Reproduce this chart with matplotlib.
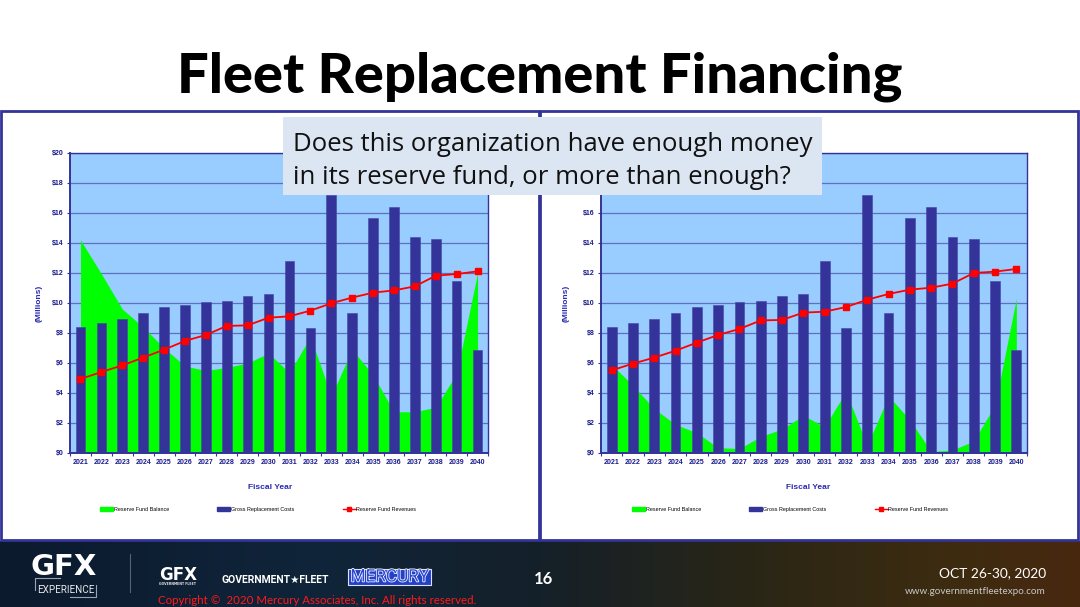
import numpy as np
import matplotlib
matplotlib.use('Agg')
import matplotlib.pyplot as plt
from matplotlib.patches import Rectangle, Patch
from matplotlib.lines import Line2D
from matplotlib.colors import LinearSegmentedColormap
import matplotlib.patheffects as pe

# ---------------- data ----------------
years = ['2021', '2022', '2023', '2024', '2025', '2026', '2027', '2028', '2029', '2030',
         '2031', '2032', '2033', '2034', '2035', '2036', '2037', '2038', '2039', '2040']
costs = [8.40, 8.64, 8.96, 9.33, 9.73, 9.89, 10.07, 10.16, 10.47, 10.60,
         12.78, 8.31, 17.18, 9.31, 15.64, 16.40, 14.38, 14.27, 11.49, 6.84]
balance_left = [14.2, 11.95, 9.6, 8.4, 7.0, 5.8, 5.5, 5.7, 6.0, 6.65,
                5.35, 7.75, 3.8, 6.9, 5.2, 2.75, 2.75, 3.05, 5.3, 12.0]
revenue_left = [4.93, 5.40, 5.84, 6.36, 6.89, 7.47, 7.87, 8.47, 8.51, 9.02,
                9.11, 9.49, 9.98, 10.36, 10.69, 10.84, 11.11, 11.82, 11.93, 12.11]
balance_right = [5.9, 4.5, 2.95, 1.9, 1.35, 0.35, 0.3, 1.1, 1.6, 2.5,
                 1.75, 4.1, 0.5, 3.8, 2.2, 0.1, 0.2, 0.8, 3.2, 10.3]
revenue_right = [5.51, 5.96, 6.36, 6.82, 7.36, 7.87, 8.27, 8.84, 8.87, 9.36,
                 9.42, 9.73, 10.22, 10.60, 10.89, 11.02, 11.29, 12.00, 12.09, 12.27]
y_ticks = [0, 2, 4, 6, 8, 10, 12, 14, 16, 18, 20]
y_tick_labels = ['$0', '$2', '$4', '$6', '$8', '$10', '$12', '$14', '$16', '$18', '$20']
series_names = ['Reserve Fund Balance', 'Gross Replacement Costs', 'Reserve Fund Revenues']

title_text = 'Fleet Replacement Financing'
question_lines = ['Does this organization have enough money',
                  'in its reserve fund, or more than enough?']

# ---------------- figure ----------------
W, H = 1080, 607
fig = plt.figure(figsize=(W / 100, H / 100), dpi=100)
fig.patch.set_facecolor('white')
renderer = fig.canvas.get_renderer()


def fx(x):
    return x / W


def fy(y):
    return 1 - y / H


def fit(t, width_px):
    bb = t.get_window_extent(renderer=renderer)
    t.set_fontsize(t.get_fontsize() * width_px / bb.width)


NAVY = '#333399'
TICKC = '#1a1a8c'
CF = 'Liberation Sans'

# footer gradient
axf = fig.add_axes([0, 0, 1, 66 / H], zorder=-1)
cmap = LinearSegmentedColormap.from_list('ft', [(0, '#0c1a2e'), (0.3, '#10253a'),
                                                (0.5, '#152029'), (0.7, '#2a2616'),
                                                (0.88, '#3d2c10'), (1.0, '#47280f')])
axf.imshow(np.linspace(0, 1, 256)[None, :], aspect='auto', cmap=cmap,
           extent=[0, 1, 0, 1])
axf.set_axis_off()


def draw_chart(ax, balance, revenue, ylabel_dx, xlabel_cx, legend_x, hide_top=False):
    x = np.arange(len(years))
    ax.set_facecolor('#99ccff')
    ax.fill_between(x, 0, balance, color='#00ff00', lw=0, zorder=1)
    ax.bar(x, costs, width=0.46, color=NAVY, edgecolor='#4545a8', lw=0.4, zorder=2)
    ax.plot(x, revenue, color='#ff0000', lw=1.3, marker='s', ms=3.8, zorder=3)
    ax.set_xlim(-0.5, len(years) - 0.5)
    ax.set_ylim(0, 20)
    ax.set_yticks(y_ticks)
    ax.set_yticklabels(y_tick_labels)
    ax.set_xticks(x)
    ax.set_xticklabels(years)
    ax.set_xticks(np.arange(len(years) + 1) - 0.5, minor=True)
    ax.tick_params(axis='x', which='major', length=0, pad=4.2)
    ax.tick_params(axis='x', which='minor', length=2.5, width=0.8, color=NAVY)
    ax.tick_params(axis='y', which='major', length=2.5, width=0.8, color=NAVY, pad=2.2)
    for lab in ax.get_xticklabels() + ax.get_yticklabels():
        lab.set_fontfamily(CF)
        lab.set_fontweight('bold')
        lab.set_fontsize(5)
        lab.set_color(TICKC)
    if hide_top:
        # these two labels sit fully behind the question box in the reference
        for lab in ax.get_yticklabels()[-2:]:
            lab.set_visible(False)
    ax.yaxis.grid(True, color='#5f70c2', lw=0.9)
    ax.set_axisbelow(True)
    for s in ax.spines.values():
        s.set_color(NAVY)
        s.set_linewidth(1.0)
    ax.spines['left'].set_linewidth(1.4)
    ax.spines['bottom'].set_linewidth(1.4)
    ax.set_ylabel('(Millions)', fontfamily=CF, fontweight='bold', fontsize=6,
                  color='#2a2ab0')
    ax.yaxis.set_label_coords(ylabel_dx, 0.5)
    ax.set_xlabel('Fiscal Year', fontfamily=CF, fontweight='bold', fontsize=6,
                  color='#2a2ab0')
    ax.xaxis.set_label_coords(xlabel_cx, -31 / 300)
    handles = [Patch(color='#00ff00'), Patch(color=NAVY),
               Line2D([], [], color='#ff0000', lw=1.0, marker='s', ms=2.5)]
    ax.legend(handles, series_names, loc='center left',
              bbox_to_anchor=(fx(legend_x), fy(509.5)), bbox_transform=fig.transFigure,
              ncol=3, frameon=False, prop={'family': CF, 'size': 3.9},
              handlelength=2.4, handleheight=0.6, handletextpad=0.15,
              columnspacing=8.9, borderpad=0, borderaxespad=0)


ax1 = fig.add_axes([fx(70), fy(453), fx(418), 300 / H])
draw_chart(ax1, balance_left, revenue_left, -27 / 418, (270 - 70) / 418, 100)
ax2 = fig.add_axes([fx(601), fy(453), fx(426), 300 / H])
draw_chart(ax2, balance_right, revenue_right, -31 / 426, (808 - 601) / 426, 632,
           hide_top=True)

# panel borders
for (x0, x1) in [(1, 539), (540, 1078)]:
    fig.patches.append(Rectangle((fx(x0), fy(540)), fx(x1 - x0), (540 - 111) / H,
                                 transform=fig.transFigure, fill=False,
                                 ec=NAVY, lw=2, zorder=2))

# title
t = fig.text(fx(540), fy(93), title_text, ha='center', va='baseline',
             fontfamily='Lato', fontweight='black', fontsize=40, color='black')
fit(t, 725)

# question box
fig.patches.append(Rectangle((fx(283), fy(195)), fx(822 - 283), (195 - 117) / H,
                             transform=fig.transFigure, fc='#dce6f2', ec='none',
                             zorder=5))
q1 = fig.text(fx(293), fy(151), question_lines[0], ha='left', va='baseline',
              fontfamily='Open Sans', fontsize=19, color='#111111', zorder=6)
fit(q1, 519)
fig.text(fx(293), fy(184), question_lines[1], ha='left', va='baseline',
         fontfamily='Open Sans', fontsize=q1.get_fontsize(), color='#111111', zorder=6)

# footer content
g = fig.text(fx(31), fy(575), 'GFX', ha='left', va='baseline', fontfamily='DejaVu Sans',
             fontweight='bold', fontsize=20, color='white')
fit(g, 66)
e = fig.text(fx(37), fy(593), 'EXPERIENCE', ha='left', va='baseline',
             fontfamily=['Liberation Sans Narrow', 'Roboto'], fontsize=9, color='#e8e8e8')
fit(e, 57)
fig.add_artist(Line2D([fx(35), fx(35), fx(60)], [fy(590), fy(578), fy(578)],
                      transform=fig.transFigure, color='#9aa4b0', lw=0.8))
fig.add_artist(Line2D([fx(70), fx(96), fx(96)], [fy(597), fy(597), fy(585)],
                      transform=fig.transFigure, color='#9aa4b0', lw=0.8))
fig.add_artist(Line2D([fx(130), fx(130)], [fy(554), fy(592)],
                      transform=fig.transFigure, color='#56636f', lw=0.8))
g2 = fig.text(fx(159), fy(580), 'GFX', ha='left', va='baseline', fontfamily='DejaVu Sans',
              fontweight='bold', fontsize=10, color='white')
fit(g2, 38)
g3 = fig.text(fx(159), fy(585), 'GOVERNMENT FLEET', ha='left', va='baseline',
              fontfamily='DejaVu Sans', fontweight='bold', fontsize=3, color='#dddddd')
fit(g3, 38)
gf = fig.text(fx(222), fy(583), 'GOVERNMENT\u2605FLEET', ha='left', va='baseline',
              fontfamily=['Liberation Sans Narrow', 'Roboto', 'DejaVu Sans'],
              fontweight='bold', fontsize=10, color='white')
fit(gf, 108)
fig.patches.append(Rectangle((fx(348), fy(585)), fx(83), 16 / H, transform=fig.transFigure,
                             fc='#2340c8', ec='#e0e0ff', lw=0.8, zorder=3))
m = fig.text(fx(389.5), fy(577), 'MERCURY', ha='center', va='center', fontfamily='Roboto',
             fontsize=10, color='#2a48d0', zorder=4,
             path_effects=[pe.withStroke(linewidth=1.1, foreground='white')])
fit(m, 78)
fig.text(fx(543), fy(579), '16', ha='center', va='center', fontfamily='Lato',
         fontweight='bold', fontsize=12, color='white')
c = fig.text(fx(158), fy(604), 'Copyright \u00a9  2020 Mercury Associates, Inc. All rights reserved.',
             ha='left', va='baseline', fontfamily='Lato', fontsize=9, color='#ff1a1a')
fit(c, 319)
d = fig.text(fx(1046), fy(577), 'OCT 26-30, 2020', ha='right', va='baseline',
             fontfamily='Lato', fontsize=11, color='white')
fit(d, 108)
w = fig.text(fx(1046), fy(594), 'www.governmentfleetexpo.com', ha='right', va='baseline',
             fontfamily='Lato', fontsize=7, color='#c8c8c8')
fit(w, 139)

fig.savefig('out.png', dpi=100, facecolor='white')
